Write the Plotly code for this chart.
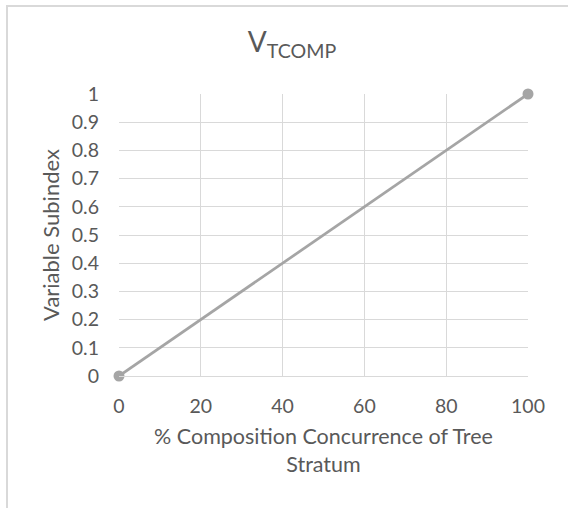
import plotly.graph_objects as go

# Data
composition_pct = [0, 100]
variable_subindex = [0, 1]
x_ticks = [0, 20, 40, 60, 80, 100]
y_ticks = [0, 0.1, 0.2, 0.3, 0.4, 0.5, 0.6, 0.7, 0.8, 0.9, 1]
y_tick_text = ["0", "0.1", "0.2", "0.3", "0.4", "0.5", "0.6", "0.7", "0.8", "0.9", "1"]

FONT = "Lato"
TXT = "#595959"
GRID = "#d9d9d9"
SERIES = "#a5a5a5"

W, H = 568, 508
L, R, T, B = 119, 40, 94, 132
pw, ph = W - L - R, H - T - B

def px2paper_x(px):
    return (px - L) / pw

def px2paper_y(py):
    return (H - B - py) / ph

fig = go.Figure()
fig.add_trace(go.Scatter(
    x=composition_pct, y=variable_subindex,
    mode="lines+markers",
    line=dict(color=SERIES, width=2.75),
    marker=dict(color=SERIES, size=11),
    cliponaxis=False,
    showlegend=False,
    hoverinfo="skip",
))

fig.update_layout(
    width=W, height=H,
    margin=dict(l=L, r=R, t=T, b=B, autoexpand=False),
    paper_bgcolor="white", plot_bgcolor="white",
    font=dict(family=FONT, color=TXT, size=19),
    title=dict(
        text="V<sub>TCOMP</sub>",
        x=292 / W, xanchor="center",
        y=1 - 42 / H, yanchor="middle",
        font=dict(family=FONT, size=28, color=TXT),
    ),
    xaxis=dict(
        range=[0, 100], tickvals=x_ticks, automargin=False,
        showgrid=True, gridcolor=GRID, gridwidth=1,
        zeroline=False, showline=True, linecolor=GRID, linewidth=1, mirror=False,
        ticks="", ticklabelstandoff=13,
        tickfont=dict(family=FONT, size=19.5, color=TXT),
        title=dict(text="% Composition Concurrence of Tree<br>Stratum",
                   font=dict(family=FONT, size=21.5, color=TXT), standoff=12),
        fixedrange=True,
    ),
    yaxis=dict(
        range=[0, 1], tickvals=y_ticks, ticktext=y_tick_text, automargin=False,
        showgrid=True, gridcolor=GRID, gridwidth=1,
        zeroline=False, showline=False,
        ticks="", ticklabelstandoff=19,
        tickfont=dict(family=FONT, size=19.5, color=TXT),
        title=dict(text="Variable Subindex",
                   font=dict(family=FONT, size=22, color=TXT), standoff=6),
        fixedrange=True,
    ),
    shapes=[dict(
        type="rect", xref="paper", yref="paper",
        x0=px2paper_x(7), x1=px2paper_x(620),
        y0=px2paper_y(560), y1=px2paper_y(6),
        line=dict(color=GRID, width=2), fillcolor="rgba(0,0,0,0)",
        layer="below",
    )],
)

fig.write_html(
    "out.html",
    config={"displayModeBar": False, "staticPlot": True},
    post_script="document.body.style.margin='0';document.body.style.overflow='hidden';",
)
